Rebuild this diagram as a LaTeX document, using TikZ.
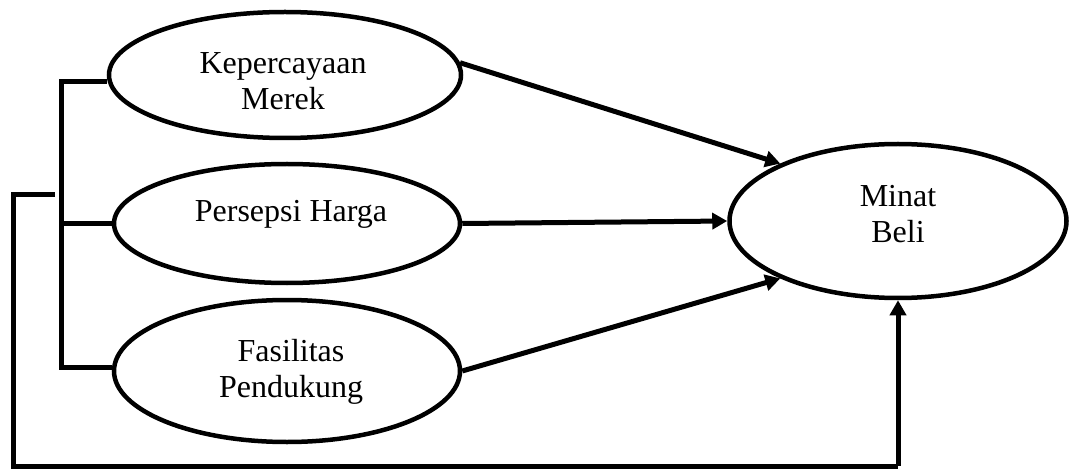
\documentclass[tikz,border=0pt]{standalone}
\usepackage{fontspec}
\setmainfont{Liberation Serif}
\usetikzlibrary{shapes.geometric,arrows.meta}

\tikzset{
  construct/.style={draw, ellipse, line width=4.5pt, inner sep=0pt},
  lbl/.style={align=center, inner sep=0pt,
              font=\fontsize{32}{36}\selectfont},
  link/.style={line width=5pt, line join=miter},
  path arrow/.style={link, -{Triangle[length=15pt,width=16pt]}}
}

\begin{document}
\begin{tikzpicture}[x=1pt, y=-1pt]
  \useasboundingbox (0,0) rectangle (1070,470);

  % latent constructs
  \node[construct, minimum width=352pt, minimum height=126pt] (kep) at (285,75) {};
  \node[construct, minimum width=346pt, minimum height=119pt] (har) at (287,223.5) {};
  \node[construct, minimum width=346pt, minimum height=142pt] (fas) at (287,371) {};
  \node[construct, minimum width=337pt, minimum height=154pt] (min) at (898,221) {};

  % construct names
  \node[lbl] (kep-t) at (283,81.5) {Kepercayaan\\Merek};
  \node[lbl] (har-t) at (291,214.5) {Persepsi Harga};
  \node[lbl] (fas-t) at (291,372) {Fasilitas\\Pendukung};
  \node[lbl] (min-t) at (898,214) {Minat\\Beli};

  % partial paths
  \draw[path arrow] (kep.4) -- (min.154);
  \draw[path arrow] (har.east) -- (min.west);
  \draw[path arrow] (fas.east) -- (min.206);

  % bracket grouping the three exogenous constructs
  \coordinate (bk) at (61,82);
  \coordinate (bf) at (61,367);
  \coordinate (bh) at (61,223.5);
  \draw[link] (kep.west |- bk) -- (bk) -- (bf) -- (fas.west |- bf);
  \draw[link] (bh) -- (har.west);

  % simultaneous path
  \coordinate (s0) at (55,195);
  \coordinate (s1) at (13,195);
  \coordinate (s2) at (13,466);
  \coordinate (s3) at (898,466);
  \draw[link] (s0) -- (s1) -- (s2) -- (s3);
  \draw[path arrow] (s3) -- (min.south);
\end{tikzpicture}
\end{document}
